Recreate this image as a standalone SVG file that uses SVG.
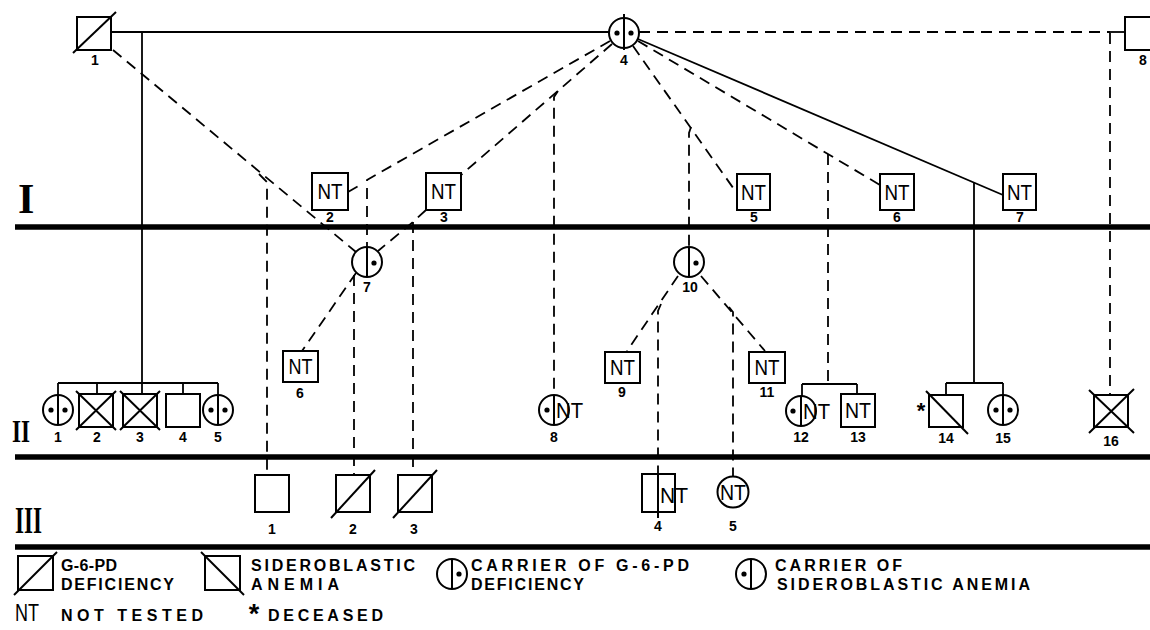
<svg xmlns="http://www.w3.org/2000/svg" width="1150" height="630" viewBox="0 0 1150 630">
<style>
.bg{fill:#fff}
.n{fill:#fff;stroke:#000;stroke-width:2}
.ln{fill:none;stroke:#000;stroke-width:2}
.c{fill:none;stroke:#000;stroke-width:1.8}
.d{fill:none;stroke:#000;stroke-width:1.8;stroke-dasharray:11 7}
.thick{stroke:#000;stroke-width:5.5}
.dot{fill:#000}
.lbl{font-family:"Liberation Sans",Arial,sans-serif;font-weight:bold;font-size:14px;text-anchor:middle;fill:#000}
.nt{font-family:"Liberation Sans",Arial,sans-serif;font-size:22px;fill:#000}
.ntm{font-family:"Liberation Sans",Arial,sans-serif;font-size:22px;fill:#000;text-anchor:middle}
.rom{font-family:"Liberation Serif","Times New Roman",serif;font-weight:bold;fill:#000}
.leg{font-family:"Liberation Sans",Arial,sans-serif;font-weight:bold;font-size:16px;fill:#000}
</style>
<rect class="bg" x="0" y="0" width="1150" height="630"/>

<g id="generation-lines">
<line class="thick" x1="15" y1="227" x2="1150" y2="227"/>
<line class="thick" x1="15" y1="457" x2="1150" y2="457"/>
<line class="thick" x1="15" y1="547" x2="1150" y2="547"/>
<text class="rom" x="18" y="213" font-size="42">I</text>
<text class="rom" x="12" y="442" font-size="32" textLength="18" lengthAdjust="spacingAndGlyphs">II</text>
<text class="rom" x="15" y="533" font-size="38" textLength="27" lengthAdjust="spacingAndGlyphs">III</text>
</g>

<g id="connectors">
<line class="c" x1="111" y1="32" x2="609" y2="32"/>
<path class="c" d="M142 32 V394"/>
<path class="c" d="M58 383 H218 M58 383 V395 M97 383 V394 M183 383 V394 M218 383 V395"/>
<path class="c" d="M638 39 L1003 195"/>
<path class="c" d="M974 183 V383 M946 383 H1003 M946 383 V395 M1003 383 V395"/>
<path class="c" d="M802 384 H857 M802 384 V396 M857 384 V394"/>
<line class="c" x1="1110" y1="32" x2="1125" y2="32"/>
<line class="d" x1="639" y1="32" x2="1110" y2="32"/>
<path class="d" d="M1110 33 V395"/>
<path class="d" d="M113 50 L356 252"/>
<path class="d" d="M259 174 L267 182 V475"/>
<path class="d" d="M610 41 L367 180 V247"/>
<path class="d" d="M348 192 L362 184"/>
<path class="d" d="M612 44 L461 175"/>
<path class="d" d="M426 210 L413 222 L378 251"/>
<path class="d" d="M413 222 V475"/>
<path class="d" d="M558 91 L554 97 V395"/>
<path class="d" d="M356 273 L302 351"/>
<path class="d" d="M354 275 V475"/>
<path class="d" d="M633 46 L736 192"/>
<path class="d" d="M691 127 L689 133 V247"/>
<path class="d" d="M638 41 L880 185"/>
<path class="d" d="M828 154 V384"/>
<path class="d" d="M678 276 L627 351"/>
<path class="d" d="M661 304 L658 311 V474"/>
<path class="d" d="M701 276 L765 351"/>
<path class="d" d="M729 307 L733 312 V476"/>
</g>

<g id="I-1"><rect class="n" x="77" y="17" width="34" height="33"/><line class="ln" x1="73" y1="53" x2="116" y2="12"/><text class="lbl" x="95" y="65">1</text></g>
<g id="I-2"><rect class="n" x="312" y="173" width="36" height="37"/><text class="ntm" x="330" y="199" textLength="25" lengthAdjust="spacingAndGlyphs">NT</text><text class="lbl" x="330" y="222">2</text></g>
<g id="I-3"><rect class="n" x="426" y="173" width="35" height="37"/><text class="ntm" x="443.5" y="199" textLength="25" lengthAdjust="spacingAndGlyphs">NT</text><text class="lbl" x="444" y="222">3</text></g>
<g id="I-4"><circle class="n" cx="624" cy="33" r="15"/><line class="ln" x1="624" y1="14" x2="624" y2="50"/><circle class="dot" cx="617" cy="33" r="2.6"/><circle class="dot" cx="631" cy="33" r="2.6"/><text class="lbl" x="624" y="65">4</text></g>
<g id="I-5"><rect class="n" x="737" y="174" width="33" height="36"/><text class="ntm" x="753.5" y="200" textLength="25" lengthAdjust="spacingAndGlyphs">NT</text><text class="lbl" x="754" y="222">5</text></g>
<g id="I-6"><rect class="n" x="880" y="174" width="34" height="36"/><text class="ntm" x="897" y="200" textLength="25" lengthAdjust="spacingAndGlyphs">NT</text><text class="lbl" x="897" y="222">6</text></g>
<g id="I-7"><rect class="n" x="1003" y="174" width="33" height="36"/><text class="ntm" x="1019.5" y="200" textLength="25" lengthAdjust="spacingAndGlyphs">NT</text><text class="lbl" x="1020" y="222">7</text></g>
<g id="I-8"><rect class="n" x="1125" y="17" width="34" height="33"/><text class="lbl" x="1143" y="65">8</text></g>

<g id="II-1"><circle class="n" cx="58" cy="410" r="15"/><line class="ln" x1="58" y1="395" x2="58" y2="425"/><circle class="dot" cx="51" cy="410" r="2.6"/><circle class="dot" cx="65" cy="410" r="2.6"/><text class="lbl" x="58" y="442">1</text></g>
<g id="II-2"><rect class="n" x="79" y="394" width="34" height="33"/><path class="ln" d="M76 430 L116 391 M76 391 L116 430"/><text class="lbl" x="97" y="442">2</text></g>
<g id="II-3"><rect class="n" x="123" y="394" width="34" height="33"/><path class="ln" d="M120 430 L160 391 M120 391 L160 430"/><text class="lbl" x="140" y="442">3</text></g>
<g id="II-4"><rect class="n" x="166" y="394" width="34" height="33"/><text class="lbl" x="183" y="442">4</text></g>
<g id="II-5"><circle class="n" cx="218" cy="410" r="15"/><line class="ln" x1="218" y1="395" x2="218" y2="425"/><circle class="dot" cx="211" cy="410" r="2.6"/><circle class="dot" cx="225" cy="410" r="2.6"/><text class="lbl" x="218" y="442">5</text></g>
<g id="II-6"><rect class="n" x="283" y="351" width="35" height="31"/><text class="ntm" x="300.5" y="374" font-size="19" textLength="24" lengthAdjust="spacingAndGlyphs">NT</text><text class="lbl" x="300" y="398">6</text></g>
<g id="II-7"><circle class="n" cx="367" cy="262" r="15"/><line class="ln" x1="367" y1="247" x2="367" y2="277"/><circle class="dot" cx="374" cy="263" r="2.6"/><text class="lbl" x="367" y="292">7</text></g>
<g id="II-8"><circle class="n" cx="554" cy="410" r="15"/><line class="ln" x1="554" y1="395" x2="554" y2="425"/><circle class="dot" cx="547" cy="410" r="2.6"/><text class="nt" x="556" y="418" textLength="27" lengthAdjust="spacingAndGlyphs">NT</text><text class="lbl" x="554" y="442">8</text></g>
<g id="II-9"><rect class="n" x="605" y="352" width="35" height="31"/><text class="ntm" x="622.5" y="375" font-size="19" textLength="25" lengthAdjust="spacingAndGlyphs">NT</text><text class="lbl" x="622" y="397">9</text></g>
<g id="II-10"><circle class="n" cx="689" cy="262" r="15"/><line class="ln" x1="689" y1="247" x2="689" y2="277"/><circle class="dot" cx="696" cy="263" r="2.6"/><text class="lbl" x="690" y="292">10</text></g>
<g id="II-11"><rect class="n" x="749" y="352" width="36" height="31"/><text class="ntm" x="767" y="375" font-size="19" textLength="25" lengthAdjust="spacingAndGlyphs">NT</text><text class="lbl" x="767" y="397">11</text></g>
<g id="II-12"><circle class="n" cx="801" cy="411" r="15"/><line class="ln" x1="801" y1="396" x2="801" y2="426"/><circle class="dot" cx="793" cy="411" r="2.6"/><text class="nt" x="803" y="419" textLength="27" lengthAdjust="spacingAndGlyphs">NT</text><text class="lbl" x="801" y="442">12</text></g>
<g id="II-13"><rect class="n" x="841" y="394" width="34" height="33"/><text class="ntm" x="858" y="418" font-size="20" textLength="26" lengthAdjust="spacingAndGlyphs">NT</text><text class="lbl" x="858" y="442">13</text></g>
<g id="II-14"><rect class="n" x="929" y="395" width="34" height="32"/><line class="ln" x1="926" y1="391" x2="968" y2="434"/><text x="921" y="418" font-family="Liberation Sans, Arial, sans-serif" font-weight="bold" font-size="22" text-anchor="middle">*</text><text class="lbl" x="946" y="443">14</text></g>
<g id="II-15"><circle class="n" cx="1003" cy="410" r="15"/><line class="ln" x1="1003" y1="395" x2="1003" y2="425"/><circle class="dot" cx="996" cy="410" r="2.6"/><circle class="dot" cx="1010" cy="410" r="2.6"/><text class="lbl" x="1003" y="443">15</text></g>
<g id="II-16"><rect class="n" x="1094" y="395" width="34" height="32"/><path class="ln" d="M1089 433 L1134 389 M1089 390 L1134 433"/><text class="lbl" x="1111" y="446">16</text></g>

<g id="III-1"><rect class="n" x="255" y="475" width="34" height="37"/><text class="lbl" x="272" y="534">1</text></g>
<g id="III-2"><rect class="n" x="336" y="475" width="34" height="37"/><line class="ln" x1="331" y1="518" x2="375" y2="470"/><text class="lbl" x="353" y="534">2</text></g>
<g id="III-3"><rect class="n" x="398" y="475" width="34" height="37"/><line class="ln" x1="393" y1="518" x2="437" y2="470"/><text class="lbl" x="414" y="534">3</text></g>
<g id="III-4"><rect class="n" x="642" y="474" width="33" height="38"/><line class="ln" x1="658" y1="474" x2="658" y2="518"/><text class="nt" x="660" y="503" textLength="28" lengthAdjust="spacingAndGlyphs">NT</text><text class="lbl" x="658" y="531">4</text></g>
<g id="III-5"><circle class="n" cx="733" cy="492" r="15.5"/><text class="ntm" x="733" y="500" font-size="20" textLength="26" lengthAdjust="spacingAndGlyphs">NT</text><text class="lbl" x="733" y="531">5</text></g>

<g id="legend">
<rect class="n" x="18" y="556" width="35" height="34"/><line class="ln" x1="14" y1="595" x2="57" y2="552"/>
<text class="leg" x="61" y="571" textLength="56" lengthAdjust="spacing">G-6-PD</text>
<text class="leg" x="61" y="590" textLength="113" lengthAdjust="spacing">DEFICIENCY</text>
<rect class="n" x="205" y="556" width="35" height="34"/><line class="ln" x1="201" y1="552" x2="244" y2="595"/>
<text class="leg" x="251" y="571" textLength="164" lengthAdjust="spacing">SIDEROBLASTIC</text>
<text class="leg" x="251" y="590" textLength="88" lengthAdjust="spacing">ANEMIA</text>
<circle class="n" cx="452" cy="574" r="15"/><line class="ln" x1="452" y1="559" x2="452" y2="589"/><circle class="dot" cx="459" cy="574" r="2.6"/>
<text class="leg" x="471" y="571" textLength="218" lengthAdjust="spacing">CARRIER OF G-6-PD</text>
<text class="leg" x="471" y="590" textLength="113" lengthAdjust="spacing">DEFICIENCY</text>
<circle class="n" cx="751" cy="574" r="15"/><line class="ln" x1="751" y1="559" x2="751" y2="589"/><circle class="dot" cx="744" cy="574" r="2.6"/>
<text class="leg" x="775" y="571" textLength="127" lengthAdjust="spacing">CARRIER OF</text>
<text class="leg" x="777" y="590" textLength="253" lengthAdjust="spacing">SIDEROBLASTIC ANEMIA</text>
<text x="15" y="621" font-family="Liberation Sans, Arial, sans-serif" font-size="24" textLength="24" lengthAdjust="spacingAndGlyphs">NT</text>
<text class="leg" x="61" y="621" textLength="142" lengthAdjust="spacing">NOT TESTED</text>
<text x="254" y="623" font-family="Liberation Sans, Arial, sans-serif" font-weight="bold" font-size="27" text-anchor="middle">*</text>
<text class="leg" x="268" y="621" textLength="115" lengthAdjust="spacing">DECEASED</text>
</g>
</svg>
